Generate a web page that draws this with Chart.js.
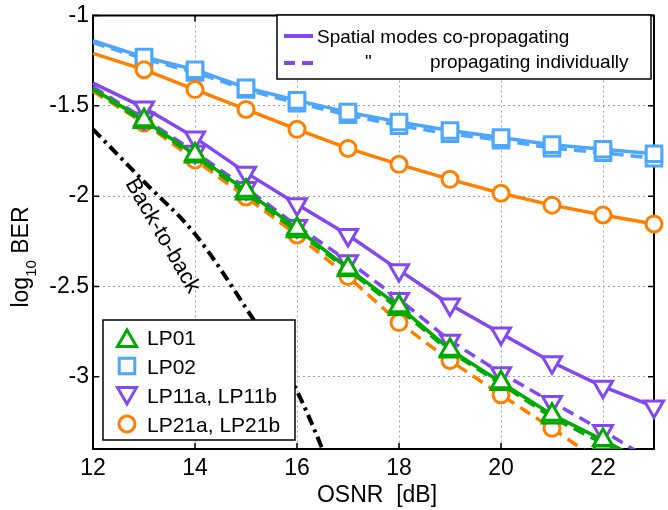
<!DOCTYPE html>
<html>
<head>
<meta charset="utf-8">
<script src="https://cdn.jsdelivr.net/npm/chart.js@4.4.1/dist/chart.umd.min.js"></script>
<style>
  body { margin: 0; background: #fff; }
  canvas { display: block; }
</style>
</head>
<body>
<canvas id="berChart" width="668" height="510"></canvas>
<script>
// OSNR sweep in dB, log10(BER) values
const osnr = [12, 13, 14, 15, 16, 17, 18, 19, 20, 21, 22, 23];

// solid = spatial modes co-propagating, dashed = propagating individually
const lp01Co  = [-1.405, -1.58, -1.77, -1.97, -2.18, -2.40, -2.61, -2.85, -3.03, -3.21, -3.35, -3.50];
const lp01Ind = [-1.41, -1.59, -1.78, -1.985, -2.195, -2.41, -2.625, -2.86, -3.04, -3.225, -3.37, -3.52];
const lp02Co  = [-1.14, -1.23, -1.30, -1.40, -1.47, -1.535, -1.59, -1.637, -1.676, -1.715, -1.74, -1.765];
const lp02Ind = [-1.15, -1.24, -1.315, -1.41, -1.485, -1.55, -1.61, -1.655, -1.69, -1.735, -1.76, -1.79];
const lp11Co  = [-1.374, -1.51, -1.676, -1.87, -2.045, -2.215, -2.41, -2.60, -2.76, -2.92, -3.055, -3.165];
const lp11Ind = [-1.395, -1.57, -1.755, -1.955, -2.165, -2.36, -2.57, -2.80, -2.98, -3.14, -3.30, -3.47];
const lp21Co  = [-1.21, -1.30, -1.41, -1.52, -1.63, -1.736, -1.824, -1.907, -1.984, -2.05, -2.104, -2.154];
const lp21Ind = [-1.42, -1.595, -1.80, -2.005, -2.215, -2.445, -2.70, -2.91, -3.10, -3.285, -3.48];

// back-to-back reference curve
const b2bOsnr = [12, 13, 14, 15, 16, 17];
const b2bBer  = [-1.63, -1.92, -2.21, -2.62, -3.08, -3.75];

const xTicks = [12, 14, 16, 18, 20, 22];
const yTicks = [-3, -2.5, -2, -1.5, -1];

const FONT = "'Liberation Sans', Arial, Helvetica, sans-serif";
const GREEN = 'rgb(0,170,0)';
const BLUE = 'rgb(77,166,255)';
const PURPLE = 'rgb(132,72,240)';
const ORANGE = 'rgb(255,128,0)';

function pts(xs, ys) {
  return ys.map((y, i) => ({ x: xs[i], y: y }));
}

function markerRadius(shape) {
  return shape === 'circle' ? 8 : 11;
}

function series(label, ys, color, shape, dashed, rot) {
  return {
    label: label,
    data: pts(osnr, ys),
    borderColor: color,
    borderWidth: 3.5,
    borderDash: dashed ? [12, 7] : [],
    pointStyle: shape,
    pointRotation: rot || 0,
    pointRadius: c => c.dataIndex === 0 ? 0 : markerRadius(shape),
    pointBorderColor: color,
    pointBackgroundColor: '#fff',
    pointBorderWidth: 3,
    clip: { left: 5, top: 5, right: 15, bottom: 0 },
    tension: 0
  };
}

const datasets = [
  series('LP01', lp01Co, GREEN, 'triangle', false),
  series('LP01 ind', lp01Ind, GREEN, 'triangle', true),
  series('LP11 ind', lp11Ind, PURPLE, 'triangle', true, 180),
  series('LP21 ind', lp21Ind, ORANGE, 'circle', true),
  series('LP11a, LP11b', lp11Co, PURPLE, 'triangle', false, 180),
  series('LP21a, LP21b', lp21Co, ORANGE, 'circle', false),
  series('LP02', lp02Co, BLUE, 'rect', false),
  series('LP02 ind', lp02Ind, BLUE, 'rect', true),
  {
    label: 'Back-to-back',
    data: pts(b2bOsnr, b2bBer),
    borderColor: '#000',
    borderWidth: 4,
    borderDash: [11, 5, 3, 5],
    pointRadius: 0,
    cubicInterpolationMode: 'monotone',
    clip: { left: 5, top: 5, right: 5, bottom: 0 }
  }
];

// box + inward ticks, under the data
const framePlugin = {
  id: 'frame',
  beforeDatasetsDraw(chart) {
    const { ctx, chartArea: a, scales: { x, y } } = chart;
    ctx.save();
    ctx.strokeStyle = '#000';
    ctx.lineWidth = 1.5;
    ctx.beginPath();
    xTicks.forEach(v => {
      const px = x.getPixelForValue(v);
      ctx.moveTo(px, a.bottom); ctx.lineTo(px, a.bottom - 6);
      ctx.moveTo(px, a.top); ctx.lineTo(px, a.top + 6);
    });
    yTicks.forEach(v => {
      const py = y.getPixelForValue(v);
      ctx.moveTo(a.left, py); ctx.lineTo(a.left + 6, py);
      ctx.moveTo(a.right, py); ctx.lineTo(a.right - 6, py);
    });
    ctx.stroke();
    ctx.lineWidth = 2;
    ctx.strokeRect(a.left, a.top, a.right - a.left, a.bottom - a.top);
    ctx.restore();
  }
};

function marker(ctx, shape, rot, color, x, y) {
  ctx.strokeStyle = color;
  ctx.fillStyle = '#fff';
  ctx.lineWidth = 3;
  Chart.helpers.drawPoint(ctx, {
    pointStyle: shape, radius: markerRadius(shape), rotation: rot || 0, borderWidth: 3
  }, x, y);
}

// legends, axis titles, curve label
const textPlugin = {
  id: 'texts',
  afterDraw(chart) {
    const { ctx, scales: { x, y } } = chart;
    ctx.save();

    // top right legend
    ctx.fillStyle = '#fff';
    ctx.fillRect(277, 15, 374, 64);
    ctx.strokeStyle = '#000';
    ctx.lineWidth = 1.5;
    ctx.strokeRect(277, 15, 374, 64);
    ctx.strokeStyle = PURPLE;
    ctx.lineWidth = 4;
    ctx.beginPath();
    ctx.moveTo(284, 36); ctx.lineTo(313, 36);
    ctx.moveTo(284, 63); ctx.lineTo(295, 63);
    ctx.moveTo(302, 63); ctx.lineTo(313, 63);
    ctx.stroke();
    ctx.fillStyle = '#000';
    ctx.font = '19px ' + FONT;
    ctx.textBaseline = 'alphabetic';
    ctx.textAlign = 'left';
    ctx.fillText('Spatial modes co-propagating', 317, 43);
    ctx.fillText('"', 365, 68);
    ctx.fillText('propagating individually', 430, 68);

    // bottom left legend
    ctx.fillStyle = '#fff';
    ctx.fillRect(103, 320, 192, 120);
    ctx.strokeStyle = '#000';
    ctx.lineWidth = 1.5;
    ctx.strokeRect(103, 320, 192, 120);
    const rows = [
      ['LP01', 'triangle', 0, GREEN, 341, 345],
      ['LP02', 'rect', 0, BLUE, 366, 374],
      ['LP11a, LP11b', 'triangle', 180, PURPLE, 393, 403],
      ['LP21a, LP21b', 'circle', 0, ORANGE, 424, 432]
    ];
    rows.forEach(r => {
      marker(ctx, r[1], r[2], r[3], 127, r[4]);
      ctx.fillStyle = '#000';
      ctx.font = '21px ' + FONT;
      ctx.fillText(r[0], 147, r[5]);
    });

    // back-to-back label along the curve
    ctx.save();
    ctx.translate(x.getPixelForValue(13.36), y.getPixelForValue(-2.22));
    ctx.rotate(Math.PI / 3);
    ctx.font = '22px ' + FONT;
    ctx.textAlign = 'center';
    ctx.textBaseline = 'middle';
    ctx.fillText('Back-to-back', 0, 0);
    ctx.restore();

    // x title
    ctx.font = '23px ' + FONT;
    ctx.textAlign = 'center';
    ctx.textBaseline = 'middle';
    ctx.fillText('OSNR  [dB]', 377, 496);

    // y title with subscript
    ctx.save();
    ctx.translate(28, 257);
    ctx.rotate(-Math.PI / 2);
    ctx.textAlign = 'left';
    ctx.textBaseline = 'alphabetic';
    ctx.font = '23px ' + FONT;
    const wLog = ctx.measureText('log').width;
    const wBer = ctx.measureText(' BER').width;
    ctx.font = '15px ' + FONT;
    const wSub = ctx.measureText('10').width;
    let px = -(wLog + wSub + wBer) / 2;
    ctx.font = '23px ' + FONT;
    ctx.fillText('log', px, 0);
    px += wLog;
    ctx.font = '15px ' + FONT;
    ctx.fillText('10', px, 8);
    px += wSub;
    ctx.font = '23px ' + FONT;
    ctx.fillText(' BER', px, 0);
    ctx.restore();

    ctx.restore();
  }
};

const tickFont = { family: FONT, size: 23, lineHeight: 1 };

new Chart(document.getElementById('berChart'), {
  type: 'line',
  data: { datasets: datasets },
  options: {
    responsive: false,
    animation: false,
    events: [],
    layout: { padding: { top: 12, right: 9, left: 0, bottom: 0 } },
    plugins: { legend: { display: false }, tooltip: { enabled: false } },
    scales: {
      x: {
        type: 'linear',
        min: 12,
        max: 23,
        afterBuildTicks: s => { s.ticks = xTicks.map(v => ({ value: v })); },
        afterFit: s => { s.height = 61; },
        ticks: { font: tickFont, color: '#000', padding: 8, maxRotation: 0, callback: v => String(v) },
        grid: { color: '#a0a0a0', lineWidth: 1, drawTicks: false },
        border: { display: false, dash: [2, 3] }
      },
      y: {
        type: 'linear',
        min: -3.4,
        max: -1,
        afterBuildTicks: s => { s.ticks = yTicks.map(v => ({ value: v })); },
        afterFit: s => { s.width = 93; },
        ticks: { font: tickFont, color: '#000', padding: 4, callback: v => String(v) },
        grid: { color: '#a0a0a0', lineWidth: 1, drawTicks: false },
        border: { display: false, dash: [2, 3] }
      }
    }
  },
  plugins: [framePlugin, textPlugin]
});
</script>
</body>
</html>
